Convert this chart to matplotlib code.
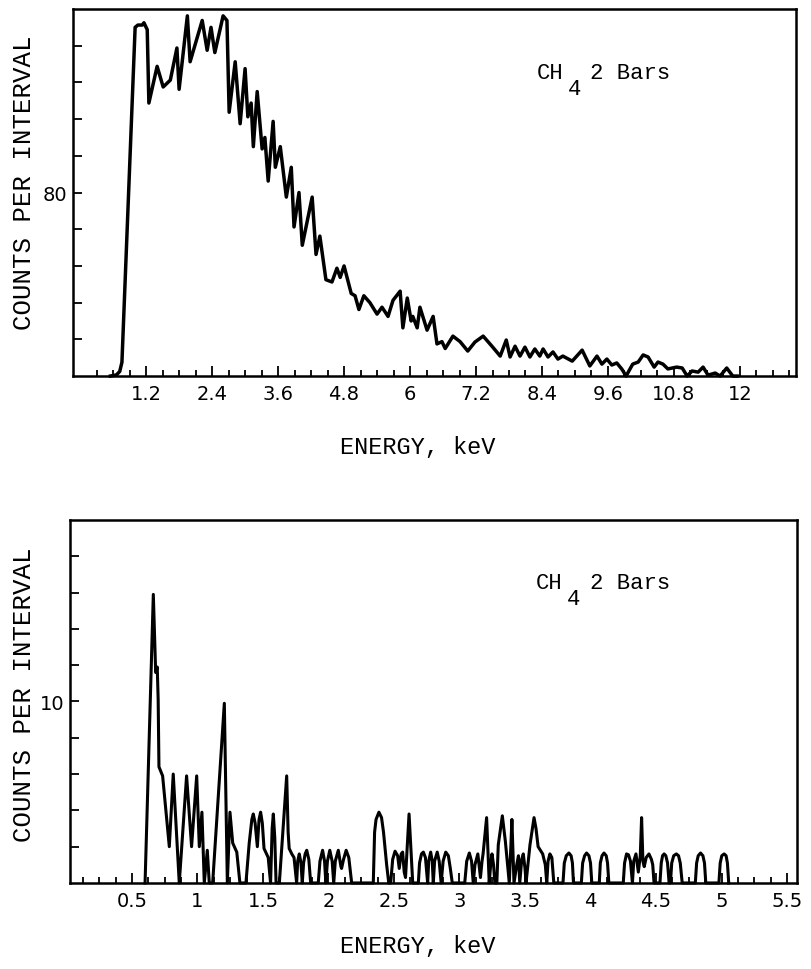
import matplotlib
matplotlib.use("Agg")
import matplotlib.pyplot as plt
from matplotlib.ticker import FixedLocator, FixedFormatter

# CH4, 2 bar spectrum, upper panel (energy in keV, counts per interval)
energy_hi = [0.55, 0.66, 0.72, 0.76, 1.00, 1.05, 1.13, 1.16, 1.22, 1.25, 1.40, 1.51, 1.64,
             1.76, 1.80, 1.95, 2.00, 2.22, 2.31, 2.38, 2.45, 2.60, 2.67, 2.71, 2.82, 2.91,
             3.00, 3.05, 3.11, 3.15, 3.22, 3.31, 3.36, 3.42, 3.51, 3.55, 3.64, 3.75, 3.84,
             3.89, 3.98, 4.04, 4.22, 4.29, 4.36, 4.47, 4.58, 4.67, 4.73, 4.80, 4.93, 5.00,
             5.07, 5.16, 5.27, 5.40, 5.49, 5.60, 5.69, 5.82, 5.87, 5.95, 6.02, 6.05, 6.13,
             6.18, 6.31, 6.42, 6.49, 6.58, 6.64, 6.78, 6.91, 7.05, 7.18, 7.33, 7.49, 7.64,
             7.75, 7.82, 7.91, 8.00, 8.09, 8.18, 8.27, 8.36, 8.42, 8.51, 8.60, 8.69, 8.78,
             8.95, 9.13, 9.27, 9.40, 9.49, 9.58, 9.67, 9.76, 9.85, 9.93, 10.05, 10.15, 10.24,
             10.33, 10.44, 10.51, 10.60, 10.69, 10.85, 10.95, 11.04, 11.13, 11.24, 11.33,
             11.42, 11.55, 11.64, 11.76, 11.87, 11.95]
counts_hi = [0, 0.5, 2, 6, 152, 153, 153, 154, 151, 119, 135, 126, 129,
             143, 125, 157, 137, 155, 142, 152, 141, 157, 155, 115, 137, 110,
             134, 113, 119, 100, 124, 99, 104, 85, 111, 91, 100, 78, 91,
             65, 80, 57, 78, 53, 61, 42, 41, 47, 43, 48, 36, 35,
             29, 35, 32, 27, 30, 26, 33, 37, 21, 34, 24, 26, 21,
             30, 20, 26, 14, 15, 12, 17.4, 15, 10.9, 14.8, 17.4, 13, 8.7,
             15.7, 8.3, 13, 8.7, 12.6, 8.3, 11.8, 8.7, 11.8, 8.3, 10.5, 7.4, 8.7,
             6.5, 11.3, 4.4, 8.7, 5.2, 7.4, 4.8, 5.7, 3.1, 0, 5.2, 6.1, 9.2,
             8.3, 3.9, 6.1, 5.2, 3.1, 3.9, 3.5, 0, 2.2, 1.7, 3.9,
             0.4, 1.3, 0, 3.5, 0, 0]

# lower panel
energy_lo = [0.60, 0.663, 0.681, 0.693, 0.700, 0.706, 0.734, 0.785, 0.815, 0.836, 0.861,
             0.917, 0.955, 0.994, 1.014, 1.034, 1.052, 1.075, 1.090, 1.116, 1.205, 1.228,
             1.248, 1.269, 1.300, 1.324,
             1.370, 1.395, 1.415, 1.426, 1.440, 1.457, 1.470, 1.482, 1.495, 1.508, 1.540,
             1.558, 1.570, 1.579, 1.590, 1.600,
             1.625, 1.681, 1.692, 1.700, 1.720, 1.737, 1.757, 1.765, 1.777, 1.790, 1.800,
             1.810, 1.822, 1.834, 1.850, 1.864,
             1.922, 1.935, 1.955, 1.970, 1.980, 1.992, 2.010, 2.028, 2.040, 2.052, 2.075,
             2.095, 2.100, 2.115, 2.135, 2.155, 2.177,
             2.342, 2.352, 2.363, 2.385, 2.405, 2.420, 2.444, 2.460,
             2.475, 2.490, 2.508, 2.528, 2.540, 2.555, 2.566, 2.578, 2.588, 2.615, 2.643,
             2.686, 2.695, 2.710, 2.724, 2.740, 2.757, 2.765, 2.780, 2.792, 2.800, 2.810,
             2.830, 2.845, 2.860, 2.875, 2.895, 2.915, 2.930, 2.945,
             3.040, 3.055, 3.075, 3.092, 3.105, 3.118, 3.140, 3.160, 3.172, 3.180, 3.207,
             3.227, 3.238, 3.248, 3.260, 3.270,
             3.285, 3.296, 3.327, 3.350, 3.380, 3.392, 3.400, 3.416, 3.437, 3.450, 3.460,
             3.475, 3.487, 3.500, 3.508, 3.538, 3.569, 3.584, 3.600, 3.635, 3.655, 3.666,
             3.676, 3.690, 3.705, 3.720,
             3.790, 3.800, 3.815, 3.835, 3.852, 3.862, 3.870,
             3.930, 3.940, 3.955, 3.970, 3.988, 4.000, 4.010,
             4.067, 4.075, 4.088, 4.103, 4.120, 4.130, 4.140,
             4.250, 4.260, 4.275, 4.290, 4.305, 4.320, 4.330, 4.347, 4.365, 4.380, 4.390,
             4.400, 4.410, 4.425, 4.446, 4.465, 4.475, 4.485,
             4.530, 4.540, 4.550, 4.562, 4.575, 4.588, 4.600,
             4.610, 4.620, 4.635, 4.655, 4.672, 4.685, 4.700,
             4.800, 4.810, 4.822, 4.840, 4.858, 4.870, 4.880,
             4.980, 4.990, 5.002, 5.020, 5.035, 5.045, 5.055]
counts_lo = [0, 15.9, 11.6, 11.9, 10.1, 6.4, 5.9, 2.0, 6.0, 3.3, 0,
             5.9, 2.0, 5.9, 2.0, 3.9, 0, 1.8, 0, 0, 9.9, 0,
             3.9, 2.2, 1.7, 0,
             0, 2.2, 3.5, 3.8, 3.3, 2.0, 3.5, 3.9, 3.3, 1.9, 1.4,
             0, 3.0, 3.8, 2.5, 0,
             0, 5.9, 2.8, 1.9, 1.6, 1.4, 0, 1.2, 1.6, 1.1, 0,
             1.1, 1.6, 1.8, 1.3, 0,
             0, 1.2, 1.8, 1.2, 0, 1.2, 1.8, 1.2, 0, 1.2, 1.8,
             0.9, 0.8, 1.3, 1.8, 1.4, 0,
             0, 2.8, 3.5, 3.9, 3.6, 2.8, 1.0, 0,
             0, 1.3, 1.75, 1.5, 0.8, 1.6, 1.7, 0.6, 0.3, 3.8, 0,
             0, 1.1, 1.6, 1.7, 1.4, 0, 1.2, 1.7, 1.2, 0, 1.2,
             1.7, 1.2, 0, 1.2, 1.7, 1.5, 0.8, 0,
             0, 1.2, 1.65, 1.2, 0, 1.0, 1.6, 0.3, 1.2, 1.6, 3.6,
             0, 1.0, 1.6, 1.0, 0,
             0, 2.1, 3.7, 2.3, 0, 2.0, 3.5, 0, 1.0, 1.5, 0,
             1.3, 1.6, 0.8, 0, 2.1, 3.6, 3.0, 2.0, 1.6, 1.0, 0,
             1.2, 1.6, 1.4, 0,
             0, 1.1, 1.5, 1.65, 1.5, 1.1, 0,
             0, 1.1, 1.5, 1.65, 1.5, 1.1, 0,
             0, 1.1, 1.5, 1.65, 1.5, 1.1, 0,
             0, 1.1, 1.6, 1.55, 1.2, 0, 1.2, 1.6, 0.6, 1.5, 3.6,
             1.2, 0.9, 1.4, 1.6, 1.3, 1.0, 0,
             0, 1.1, 1.5, 1.6, 1.5, 1.1, 0,
             0, 1.1, 1.5, 1.6, 1.5, 1.1, 0,
             0, 1.1, 1.5, 1.65, 1.5, 1.1, 0,
             0, 1.1, 1.5, 1.6, 1.5, 1.1, 0]

hi_major = [1.2, 2.4, 3.6, 4.8, 6.0, 7.2, 8.4, 9.6, 10.8, 12.0]
hi_major_labels = ["1.2", "2.4", "3.6", "4.8", "6", "7.2", "8.4", "9.6", "10.8", "12"]
lo_major = [0.5, 1.0, 1.5, 2.0, 2.5, 3.0, 3.5, 4.0, 4.5, 5.0, 5.5]
lo_major_labels = ["0.5", "1", "1.5", "2", "2.5", "3", "3.5", "4", "4.5", "5", "5.5"]

mono = "Liberation Mono"
sans = "DejaVu Sans"

fig = plt.figure(figsize=(8.12, 9.70), dpi=100)
ax_hi = fig.add_axes([0.0899, 0.6113, 0.8904, 0.3784])
ax_lo = fig.add_axes([0.0862, 0.0887, 0.8953, 0.3742])


def style_axis(ax, xmajor, xlabels, xminor_step, xmax, yticks, ylabel_at):
    for sp in ax.spines.values():
        sp.set_linewidth(1.8)
    ax.xaxis.set_major_locator(FixedLocator(xmajor))
    ax.xaxis.set_major_formatter(FixedFormatter(xlabels))
    n = int(round(xmax / xminor_step))
    ax.xaxis.set_minor_locator(FixedLocator([i * xminor_step for i in range(1, n + 1)]))
    ax.yaxis.set_major_locator(FixedLocator(yticks))
    ax.yaxis.set_major_formatter(FixedFormatter([str(ylabel_at) if t == ylabel_at else "" for t in yticks]))
    ax.tick_params(axis="x", which="major", direction="in", length=7, width=1.3, pad=6, labelsize=14)
    ax.tick_params(axis="x", which="minor", direction="in", length=4.2, width=1.3)
    ax.tick_params(axis="y", which="major", direction="in", length=6.5, width=1.3, pad=4, labelsize=14)
    for lab in ax.get_xticklabels() + ax.get_yticklabels():
        lab.set_family(sans)


# upper panel
ax_hi.plot(energy_hi, counts_hi, color="black", lw=2.5, solid_joinstyle="round", clip_on=False)
ax_hi.set_xlim(-0.13, 13.02)
ax_hi.set_ylim(0, 160)
style_axis(ax_hi, hi_major, hi_major_labels, 0.3, 12.9, list(range(16, 160, 16)), 80)

# lower panel
ax_lo.plot(energy_lo, counts_lo, color="black", lw=2.2, solid_joinstyle="round", clip_on=False)
ax_lo.set_xlim(0.027, 5.576)
ax_lo.set_ylim(0, 20)
style_axis(ax_lo, lo_major, lo_major_labels, 0.125, 5.5, list(range(2, 20, 2)), 10)

# CH4 2 Bars annotation
for ax in (ax_hi, ax_lo):
    ax.text(0.641, 0.828, "CH", transform=ax.transAxes, family=mono, fontsize=16, va="center")
    ax.text(0.684, 0.784, "4", transform=ax.transAxes, family=mono, fontsize=16, va="center")
    ax.text(0.715, 0.828, "2 Bars", transform=ax.transAxes, family=mono, fontsize=16, va="center")

fig.text(0.515, 0.539, "ENERGY, keV", family=mono, fontsize=17, ha="center", va="center")
fig.text(0.515, 0.024, "ENERGY, keV", family=mono, fontsize=17, ha="center", va="center")
fig.text(0.030, 0.812, "COUNTS PER INTERVAL", family=mono, fontsize=18.5, rotation=90, ha="center", va="center")
fig.text(0.030, 0.2835, "COUNTS PER INTERVAL", family=mono, fontsize=18.5, rotation=90, ha="center", va="center")

fig.savefig("out.png", dpi=100)
